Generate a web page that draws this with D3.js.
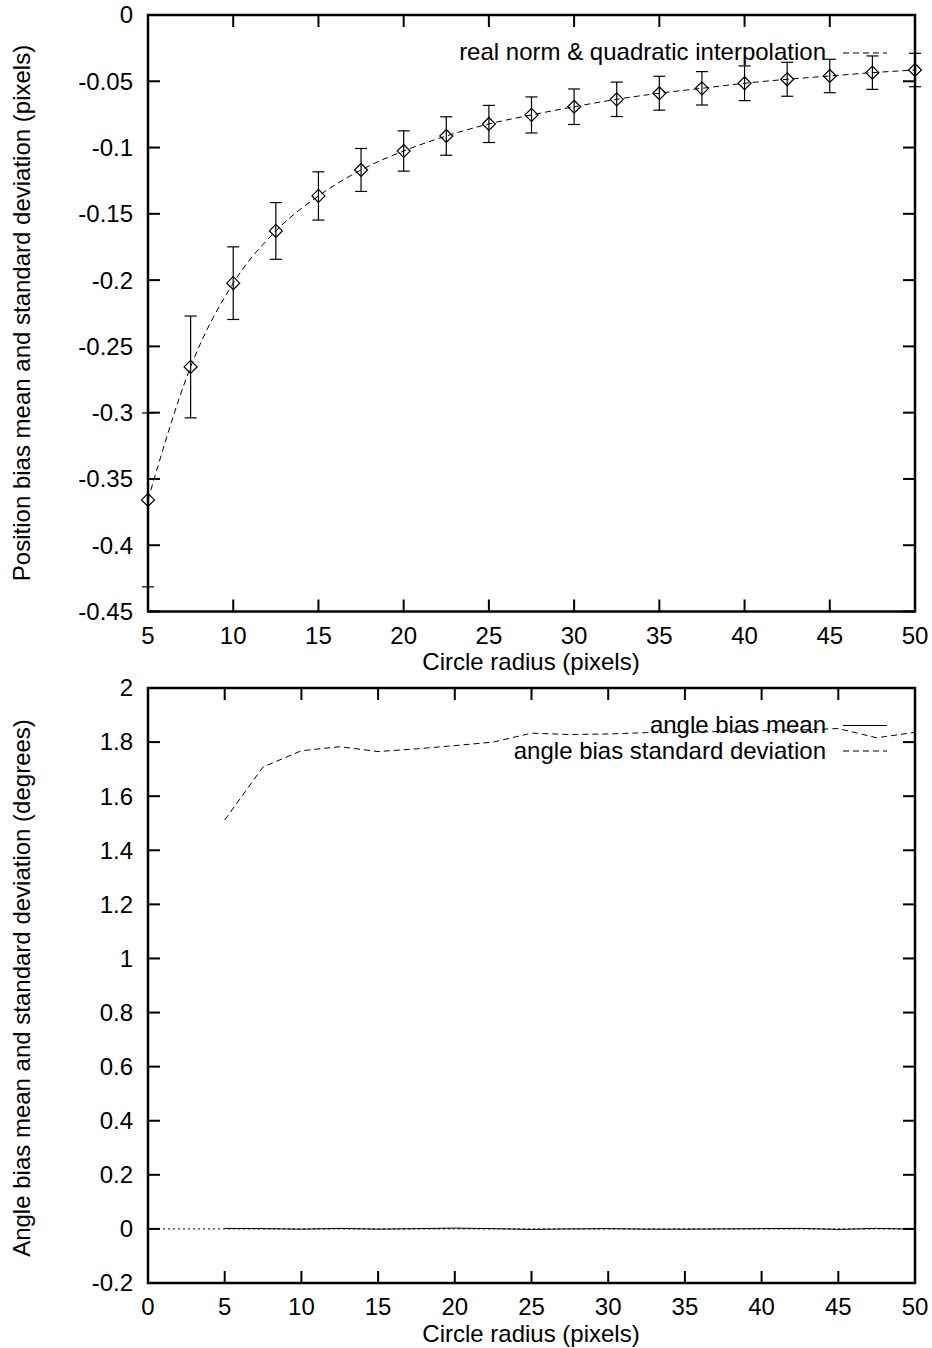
<!DOCTYPE html>
<html>
<head>
<meta charset="utf-8">
<script src="https://cdn.jsdelivr.net/npm/d3@7"></script>
<style>
  html, body { margin: 0; padding: 0; background: #fff; }
  svg { display: block; }
  text { font-family: "Liberation Sans", Arial, sans-serif; fill: #000; }
</style>
</head>
<body>
<svg id="chart" width="932" height="1348"></svg>
<script>
// ---------- data: top panel ----------
const radius = [5, 7.5, 10, 12.5, 15, 17.5, 20, 22.5, 25, 27.5, 30, 32.5, 35, 37.5, 40, 42.5, 45, 47.5, 50];
const posMean = [-0.3658, -0.2655, -0.2023, -0.1629, -0.1365, -0.1169, -0.1026, -0.0913, -0.0822, -0.0754,
                 -0.0692, -0.0636, -0.0590, -0.0553, -0.0515, -0.0485, -0.0460, -0.0435, -0.0415];
const posStd = [0.0656, 0.0384, 0.0274, 0.0214, 0.0182, 0.0162, 0.0152, 0.0145, 0.0140, 0.0136,
                0.0134, 0.0130, 0.0128, 0.0126, 0.0131, 0.0128, 0.0126, 0.0126, 0.0126];
const topYTicks = [0, -0.05, -0.1, -0.15, -0.2, -0.25, -0.3, -0.35, -0.4, -0.45];
const topYLabels = ["0", "-0.05", "-0.1", "-0.15", "-0.2", "-0.25", "-0.3", "-0.35", "-0.4", "-0.45"];
const topXTicks = [5, 10, 15, 20, 25, 30, 35, 40, 45, 50];
const topXLabels = ["5", "10", "15", "20", "25", "30", "35", "40", "45", "50"];

// ---------- data: bottom panel ----------
const angleStd = [1.512, 1.708, 1.768, 1.783, 1.765, 1.775, 1.787, 1.800, 1.833, 1.828,
                  1.830, 1.835, 1.835, 1.840, 1.842, 1.845, 1.850, 1.816, 1.836];
const angleMean = [0.002, 0.001, -0.001, 0.002, -0.001, 0.001, 0.003, 0.001, -0.002, 0.000,
                   0.001, -0.001, -0.001, 0.000, 0.001, 0.002, -0.002, 0.002, -0.001];
const botYTicks = [2, 1.8, 1.6, 1.4, 1.2, 1, 0.8, 0.6, 0.4, 0.2, 0, -0.2];
const botYLabels = ["2", "1.8", "1.6", "1.4", "1.2", "1", "0.8", "0.6", "0.4", "0.2", "0", "-0.2"];
const botXTicks = [0, 5, 10, 15, 20, 25, 30, 35, 40, 45, 50];
const botXLabels = ["0", "5", "10", "15", "20", "25", "30", "35", "40", "45", "50"];

const svg = d3.select("#chart");
const FS = 24;
const L = 148, R = 915;

function frame(g, x, y, xt, xl, yt, yl) {
  const [x0, x1] = x.range();
  const [y0, y1] = y.range(); // y0 bottom, y1 top
  const tick = 12;
  g.append("g").selectAll("line").data(yt).join("line")
    .attr("x1", x0).attr("x2", x0 + tick).attr("y1", d => y(d)).attr("y2", d => y(d))
    .attr("stroke", "#000").attr("stroke-width", 2);
  g.append("g").selectAll("line").data(yt).join("line")
    .attr("x1", x1).attr("x2", x1 - tick).attr("y1", d => y(d)).attr("y2", d => y(d))
    .attr("stroke", "#000").attr("stroke-width", 2);
  g.append("g").selectAll("line").data(xt).join("line")
    .attr("x1", d => x(d)).attr("x2", d => x(d)).attr("y1", y0).attr("y2", y0 - tick)
    .attr("stroke", "#000").attr("stroke-width", 2);
  g.append("g").selectAll("line").data(xt).join("line")
    .attr("x1", d => x(d)).attr("x2", d => x(d)).attr("y1", y1).attr("y2", y1 + tick)
    .attr("stroke", "#000").attr("stroke-width", 2);
  g.append("g").selectAll("text").data(yt).join("text")
    .attr("x", x0 - 15).attr("y", d => y(d)).attr("dy", "0.35em")
    .attr("text-anchor", "end").attr("font-size", FS)
    .text((d, i) => yl[i]);
  g.append("g").selectAll("text").data(xt).join("text")
    .attr("x", d => x(d)).attr("y", y0 + 32)
    .attr("text-anchor", "middle").attr("font-size", FS)
    .text((d, i) => xl[i]);
  g.append("rect").attr("x", x0).attr("y", y1).attr("width", x1 - x0).attr("height", y0 - y1)
    .attr("fill", "none").attr("stroke", "#000").attr("stroke-width", 2.5);
}

// ---------- top panel ----------
{
  const x = d3.scaleLinear().domain([5, 50]).range([L, R]);
  const y = d3.scaleLinear().domain([-0.45, 0]).range([611.5, 15]);
  const g = svg.append("g");
  frame(g, x, y, topXTicks, topXLabels, topYTicks, topYLabels);

  const pts = radius.map((r, i) => ({ r, m: posMean[i], s: posStd[i] }));
  g.append("path").datum(pts)
    .attr("d", d3.line().x(d => x(d.r)).y(d => y(d.m)).curve(d3.curveMonotoneX))
    .attr("fill", "none").attr("stroke", "#000").attr("stroke-width", 1)
    .attr("stroke-dasharray", "6,4");
  const eb = g.append("g").attr("stroke", "#000").attr("stroke-width", 1.2);
  eb.selectAll("line.v").data(pts).join("line").attr("class", "v")
    .attr("x1", d => x(d.r)).attr("x2", d => x(d.r))
    .attr("y1", d => y(d.m + d.s)).attr("y2", d => y(d.m - d.s));
  eb.selectAll("line.t").data(pts).join("line").attr("class", "t")
    .attr("x1", d => x(d.r) - 6).attr("x2", d => x(d.r) + 6)
    .attr("y1", d => y(d.m + d.s)).attr("y2", d => y(d.m + d.s));
  eb.selectAll("line.b").data(pts).join("line").attr("class", "b")
    .attr("x1", d => x(d.r) - 6).attr("x2", d => x(d.r) + 6)
    .attr("y1", d => y(d.m - d.s)).attr("y2", d => y(d.m - d.s));
  const s = 6.5;
  g.append("g").selectAll("path").data(pts).join("path")
    .attr("d", d => {
      const cx = x(d.r), cy = y(d.m);
      return `M${cx},${cy - s}L${cx + s},${cy}L${cx},${cy + s}L${cx - s},${cy}Z`;
    })
    .attr("fill", "none").attr("stroke", "#000").attr("stroke-width", 1.2);

  g.append("text").attr("x", 826).attr("y", 60).attr("text-anchor", "end").attr("font-size", FS)
    .text("real norm & quadratic interpolation");
  g.append("line").attr("x1", 843).attr("x2", 887).attr("y1", 53).attr("y2", 53)
    .attr("stroke", "#000").attr("stroke-width", 1).attr("stroke-dasharray", "6,4");

  g.append("text").attr("x", 531).attr("y", 670).attr("text-anchor", "middle").attr("font-size", FS)
    .text("Circle radius (pixels)");
  g.append("text").attr("transform", "translate(30,313) rotate(-90)").attr("text-anchor", "middle")
    .attr("font-size", FS).text("Position bias mean and standard deviation (pixels)");
}

// ---------- bottom panel ----------
{
  const x = d3.scaleLinear().domain([0, 50]).range([L, R]);
  const y = d3.scaleLinear().domain([-0.2, 2]).range([1283, 688]);
  const g = svg.append("g");
  frame(g, x, y, botXTicks, botXLabels, botYTicks, botYLabels);

  g.append("line").attr("x1", x(0)).attr("x2", x(50)).attr("y1", y(0)).attr("y2", y(0))
    .attr("stroke", "#000").attr("stroke-width", 1).attr("stroke-dasharray", "2,3");

  const line = d3.line().x(d => x(d[0])).y(d => y(d[1]));
  g.append("path").datum(radius.map((r, i) => [r, angleMean[i]]))
    .attr("d", line).attr("fill", "none").attr("stroke", "#000").attr("stroke-width", 1);
  g.append("path").datum(radius.map((r, i) => [r, angleStd[i]]))
    .attr("d", line).attr("fill", "none").attr("stroke", "#000").attr("stroke-width", 1)
    .attr("stroke-dasharray", "6,4");

  g.append("text").attr("x", 826).attr("y", 733).attr("text-anchor", "end").attr("font-size", FS)
    .text("angle bias mean");
  g.append("line").attr("x1", 843).attr("x2", 887).attr("y1", 725.5).attr("y2", 725.5)
    .attr("stroke", "#000").attr("stroke-width", 1);
  g.append("text").attr("x", 826).attr("y", 759).attr("text-anchor", "end").attr("font-size", FS)
    .text("angle bias standard deviation");
  g.append("line").attr("x1", 843).attr("x2", 887).attr("y1", 751).attr("y2", 751)
    .attr("stroke", "#000").attr("stroke-width", 1).attr("stroke-dasharray", "6,4");

  g.append("text").attr("x", 531).attr("y", 1342).attr("text-anchor", "middle").attr("font-size", FS)
    .text("Circle radius (pixels)");
  g.append("text").attr("transform", "translate(30,988) rotate(-90)").attr("text-anchor", "middle")
    .attr("font-size", FS).text("Angle bias mean and standard deviation (degrees)");
}
</script>
</body>
</html>
